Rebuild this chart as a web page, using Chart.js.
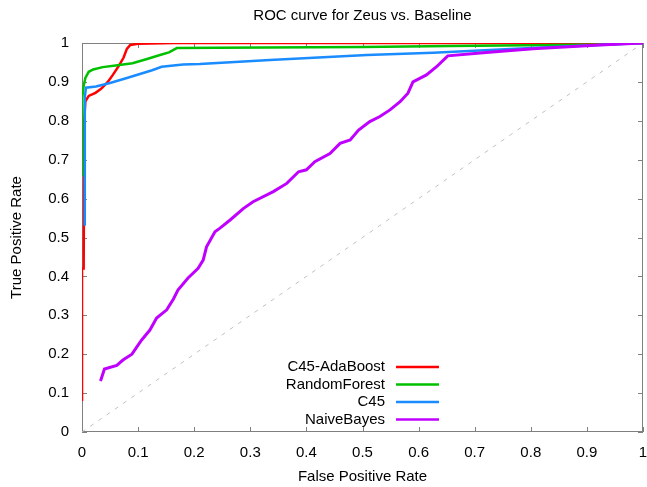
<!DOCTYPE html>
<html>
<head>
<meta charset="utf-8">
<title>ROC curve for Zeus vs. Baseline</title>
<script src="https://cdn.jsdelivr.net/npm/chart.js@4.4.1/dist/chart.umd.min.js"></script>
<style>
  html, body { margin: 0; padding: 0; background: #fff; }
  #wrap { width: 647px; height: 487px; }
</style>
</head>
<body>
<div id="wrap"><canvas id="roc"></canvas></div>
<script>
// ---- data ----
const seriesNames = ["C45-AdaBoost", "RandomForest", "C45", "NaiveBayes"];

const adaFpr = [0, 0, 0.003, 0.004, 0.006, 0.012, 0.024, 0.034, 0.046, 0.055, 0.065, 0.074, 0.08, 0.086, 0.1, 0.165, 1];
const adaTpr = [0.08, 0.42, 0.42, 0.8, 0.85, 0.864, 0.872, 0.882, 0.9, 0.918, 0.94, 0.962, 0.985, 0.995, 0.998, 1, 1];

const rfFpr = [0, 0, 0.001, 0.003, 0.006, 0.012, 0.02, 0.037, 0.06, 0.09, 0.116, 0.139, 0.155, 0.169, 0.24, 0.5, 0.656, 0.93, 1];
const rfTpr = [0.66, 0.72, 0.86, 0.89, 0.91, 0.926, 0.932, 0.938, 0.942, 0.948, 0.959, 0.969, 0.976, 0.987, 0.988, 0.99, 0.992, 0.996, 1];

const c45Fpr = [0.005, 0.005, 0.007, 0.025, 0.05, 0.08, 0.109, 0.125, 0.142, 0.18, 0.21, 0.335, 0.508, 0.626, 0.8, 1];
const c45Tpr = [0.53, 0.86, 0.885, 0.888, 0.897, 0.91, 0.923, 0.93, 0.939, 0.945, 0.946, 0.956, 0.969, 0.975, 0.987, 1];

const nbFpr = [0.033, 0.04, 0.062, 0.073, 0.089, 0.106, 0.121, 0.133, 0.151, 0.163, 0.171, 0.189, 0.207, 0.216, 0.222,
  0.237, 0.246, 0.264, 0.288, 0.305, 0.341, 0.365, 0.386, 0.4, 0.415, 0.442, 0.46, 0.478, 0.493, 0.513, 0.531,
  0.549, 0.567, 0.581, 0.59, 0.614, 0.632, 0.647, 0.652, 0.715, 0.804, 0.923, 1];
const nbTpr = [0.131, 0.162, 0.171, 0.185, 0.2, 0.236, 0.262, 0.293, 0.314, 0.342, 0.365, 0.396, 0.421, 0.442, 0.476,
  0.515, 0.524, 0.545, 0.575, 0.592, 0.618, 0.639, 0.669, 0.674, 0.695, 0.716, 0.742, 0.751, 0.776, 0.798, 0.811,
  0.828, 0.849, 0.871, 0.9, 0.918, 0.939, 0.96, 0.967, 0.975, 0.985, 0.995, 1];

const chanceFpr = [0, 1];
const chanceTpr = [0, 1];

// ---- styling ----
const FONT = "'Liberation Sans', Arial, sans-serif";
const FONT_SIZE = 15;
const AXIS_GRAY = "#808080";
const colors = ["#ff0000", "#00c000", "#1a8cff", "#c000ff"];

const toPoints = (xs, ys) => xs.map((x, i) => ({ x: x, y: ys[i] }));
// "0", "0.1" ... "1" like gnuplot, not "0.0" / "1.0"
const tickText = (v) => String(Number(v.toFixed(1)));

// gnuplot style frame: border all round, tick marks pointing inward on every side
const frameTicks = {
  id: "frameTicks",
  beforeDatasetsDraw(chart) {
    const { ctx, chartArea: a, scales } = chart;
    const len = 5;
    ctx.save();
    ctx.strokeStyle = AXIS_GRAY;
    ctx.lineWidth = 1;
    ctx.strokeRect(a.left + 0.5, a.top + 0.5, a.right - a.left - 1, a.bottom - a.top - 1);
    ctx.beginPath();
    scales.x.ticks.forEach((t) => {
      const px = Math.round(scales.x.getPixelForValue(t.value)) + 0.5;
      ctx.moveTo(px, a.bottom);
      ctx.lineTo(px, a.bottom - len);
      ctx.moveTo(px, a.top);
      ctx.lineTo(px, a.top + len);
    });
    scales.y.ticks.forEach((t) => {
      const py = Math.round(scales.y.getPixelForValue(t.value)) + 0.5;
      ctx.moveTo(a.left, py);
      ctx.lineTo(a.left + len, py);
      ctx.moveTo(a.right, py);
      ctx.lineTo(a.right - len, py);
    });
    ctx.stroke();
    ctx.restore();
  },
};

// legend inside the plot: label right aligned, line sample to its right
const keyBox = {
  id: "keyBox",
  afterDraw(chart) {
    const { ctx } = chart;
    const textRight = 385;
    const lineFrom = 396;
    const lineTo = 439;
    const firstRow = 367;
    const rowGap = 17.5;
    ctx.save();
    ctx.font = FONT_SIZE + "px " + FONT;
    ctx.textAlign = "right";
    ctx.textBaseline = "middle";
    seriesNames.forEach((name, i) => {
      const y = firstRow + i * rowGap;
      ctx.fillStyle = "#000";
      ctx.fillText(name, textRight, y);
      ctx.strokeStyle = colors[i];
      ctx.lineWidth = 2.5;
      ctx.beginPath();
      ctx.moveTo(lineFrom, y);
      ctx.lineTo(lineTo, y);
      ctx.stroke();
    });
    ctx.restore();
  },
};

Chart.defaults.font.family = FONT;
Chart.defaults.font.size = FONT_SIZE;
Chart.defaults.color = "#000";

const curve = (label, xs, ys, i, width, order) => ({
  label: label,
  data: toPoints(xs, ys),
  borderColor: colors[i],
  backgroundColor: colors[i],
  borderWidth: width,
  pointRadius: 0,
  showLine: true,
  tension: 0,
  order: order,
});

new Chart(document.getElementById("roc"), {
  type: "scatter",
  data: {
    datasets: [
      curve(seriesNames[0], adaFpr, adaTpr, 0, 2.5, 4),
      curve(seriesNames[1], rfFpr, rfTpr, 1, 2.5, 3),
      curve(seriesNames[2], c45Fpr, c45Tpr, 2, 2.5, 2),
      curve(seriesNames[3], nbFpr, nbTpr, 3, 3, 1),
      {
        label: "chance",
        data: toPoints(chanceFpr, chanceTpr),
        borderColor: "#c0c0c0",
        borderWidth: 1,
        borderDash: [4, 6],
        pointRadius: 0,
        showLine: true,
        order: 5,
      },
    ],
  },
  options: {
    responsive: true,
    maintainAspectRatio: false,
    animation: false,
    layout: { padding: { left: 0, right: 4, top: 0, bottom: 0 } },
    plugins: {
      legend: { display: false },
      tooltip: { enabled: false },
      title: {
        display: true,
        text: "ROC curve for Zeus vs. Baseline",
        fullSize: false,
        font: { size: FONT_SIZE, weight: "normal" },
        color: "#000",
        padding: { top: 7, bottom: 18 },
      },
    },
    scales: {
      x: {
        type: "linear",
        min: 0,
        max: 1,
        grid: { display: false, drawTicks: false },
        border: { display: false },
        ticks: { stepSize: 0.1, padding: 12, color: "#000", callback: tickText },
        title: { display: true, text: "False Positive Rate", color: "#000", padding: { top: 4, bottom: 1 } },
        afterFit: (s) => {
          s.height = 55;
          s.paddingLeft = 0;
          s.paddingRight = 0;
        },
      },
      y: {
        type: "linear",
        min: 0,
        max: 1,
        grid: { display: false, drawTicks: false },
        border: { display: false },
        ticks: { stepSize: 0.1, padding: 13, color: "#000", callback: tickText },
        title: { display: true, text: "True Positive Rate", color: "#000", padding: { top: 8, bottom: 4 } },
        afterFit: (s) => { s.width = 82; },
      },
    },
  },
  plugins: [frameTicks, keyBox],
});
</script>
</body>
</html>
